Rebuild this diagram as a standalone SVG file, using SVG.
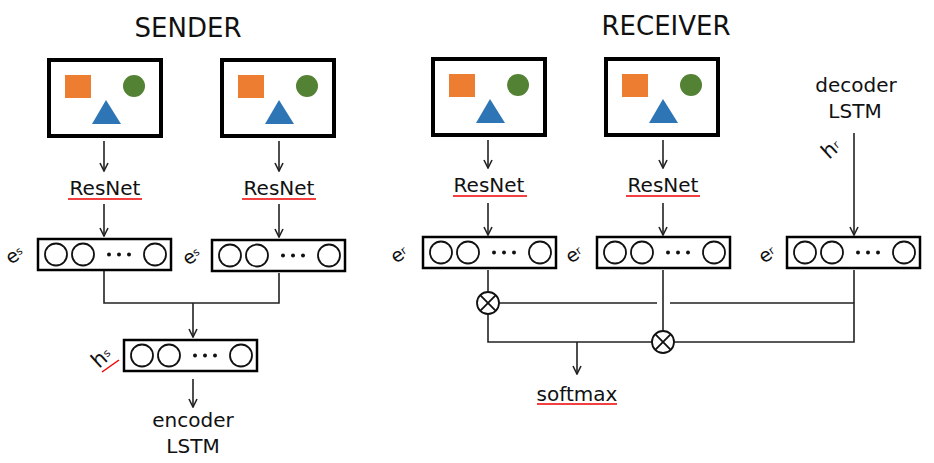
<svg xmlns="http://www.w3.org/2000/svg" xmlns:xlink="http://www.w3.org/1999/xlink" width="934" height="463" viewBox="0 0 934 463">
<style>
  text { font-family: "DejaVu Sans", "Liberation Sans", sans-serif; fill: #111; }
  .title { font-size: 26px; text-anchor: middle; }
  .lbl { font-size: 20px; text-anchor: middle; }
  .sym { font-size: 19px; }
  .symh { font-size: 21px; }
  .sub { font-size: 11px; }
  .frame { fill: #fff; stroke: #000; stroke-width: 4; }
  .vbox { fill: #fff; stroke: #000; stroke-width: 2.5; }
  .cell { fill: #fff; stroke: #111; stroke-width: 1.8; }
  .conn { fill: none; stroke: #222; stroke-width: 1.6; }
  .arr { fill: none; stroke: #222; stroke-width: 1.6; marker-end: url(#ah); }
  .spell { stroke: #e00; stroke-width: 1.5; fill: none; }
</style>
<defs>
  <marker id="ah" viewBox="0 0 10 10" refX="9" refY="5" markerWidth="10" markerHeight="10" markerUnits="userSpaceOnUse" orient="auto">
    <path d="M1,1 L9,5 L1,9" fill="none" stroke="#222" stroke-width="1.6"/>
  </marker>
  <g id="img">
    <rect class="frame" x="2" y="2" width="112" height="76"/>
    <rect x="18" y="17" width="26" height="23" fill="#ED7D31"/>
    <circle cx="87" cy="28" r="11" fill="#548235"/>
    <polygon points="59,42 45,66 74,66" fill="#2E75B6"/>
  </g>
  <g id="vec">
    <rect class="vbox" x="1" y="1" width="133" height="31"/>
    <circle class="cell" cx="19" cy="16.5" r="11"/>
    <circle class="cell" cx="46" cy="16.5" r="11"/>
    <circle cx="72" cy="16.5" r="2" fill="#111"/>
    <circle cx="82" cy="16.5" r="2" fill="#111"/>
    <circle cx="92" cy="16.5" r="2" fill="#111"/>
    <circle class="cell" cx="118" cy="16.5" r="11"/>
  </g>
  <g id="otimes">
    <circle r="11" fill="#fff" stroke="#111" stroke-width="1.8"/>
    <path d="M-7.8,-7.8 L7.8,7.8 M-7.8,7.8 L7.8,-7.8" stroke="#111" stroke-width="1.8"/>
  </g>
</defs>
<rect width="934" height="463" fill="#fff"/>

<g id="connectors">
  <!-- sender -->
  <path class="arr" d="M104,141 V171"/>
  <path class="arr" d="M104,204 V236"/>
  <path class="arr" d="M279,141 V171"/>
  <path class="arr" d="M279,204 V237"/>
  <path class="conn" d="M104,271 V303 H279 V273"/>
  <path class="arr" d="M193,303 V337"/>
  <path class="arr" d="M193,379 V407"/>
  <!-- receiver -->
  <path class="arr" d="M488,140 V168"/>
  <path class="arr" d="M488,203 V235"/>
  <path class="arr" d="M663,140 V168"/>
  <path class="arr" d="M663,203 V235"/>
  <path class="arr" d="M854,133 V235"/>
  <path class="conn" d="M488,270 V292"/>
  <path class="conn" d="M499,303 H657 M670,303 H854"/>
  <path class="conn" d="M854,270 V342 H674"/>
  <path class="conn" d="M663,270 V331"/>
  <path class="conn" d="M488,314 V342 H652"/>
  <path class="arr" d="M577,342 V374"/>
</g>

<g id="sender-title"><text class="title" x="188" y="37">SENDER</text></g>
<g id="receiver-title"><text class="title" x="666" y="35">RECEIVER</text></g>

<g id="s-img1"><use xlink:href="#img" href="#img" transform="translate(47,58)"/></g>
<g id="s-img2"><use xlink:href="#img" href="#img" transform="translate(220,58)"/></g>
<g id="r-img1"><use xlink:href="#img" href="#img" transform="translate(431,57)"/></g>
<g id="r-img2"><use xlink:href="#img" href="#img" transform="translate(604,57)"/></g>

<g id="s-resnet1"><text class="lbl" x="105" y="195">ResNet</text><path class="spell" d="M68,199 H142"/></g>
<g id="s-resnet2"><text class="lbl" x="279" y="195">ResNet</text><path class="spell" d="M242,199 H316"/></g>
<g id="r-resnet1"><text class="lbl" x="489" y="192">ResNet</text><path class="spell" d="M453,196 H527"/></g>
<g id="r-resnet2"><text class="lbl" x="663" y="192">ResNet</text><path class="spell" d="M626,196 H700"/></g>

<g id="s-vec1">
  <use xlink:href="#vec" href="#vec" transform="translate(37,238)"/>
  <text class="sym" transform="translate(11,265) rotate(-35)">e<tspan class="sub" dy="-3">s</tspan></text>
</g>
<g id="s-vec2">
  <use xlink:href="#vec" href="#vec" transform="translate(211,239)"/>
  <text class="sym" transform="translate(188,266) rotate(-35)">e<tspan class="sub" dy="-3">s</tspan></text>
</g>
<g id="s-hs">
  <use xlink:href="#vec" href="#vec" transform="translate(123,339)"/>
  <text class="symh" transform="translate(99,369) rotate(-42)">h<tspan class="sub" dy="-3">s</tspan></text>
  <path class="spell" d="M102,372 L119,360"/>
</g>
<g id="s-encoder">
  <text class="lbl" x="193" y="427">encoder</text>
  <text class="lbl" x="193" y="453">LSTM</text>
</g>

<g id="r-vec1">
  <use xlink:href="#vec" href="#vec" transform="translate(422,236)"/>
  <text class="sym" transform="translate(396,264) rotate(-35)">e<tspan class="sub" dy="-3">r</tspan></text>
</g>
<g id="r-vec2">
  <use xlink:href="#vec" href="#vec" transform="translate(596,236)"/>
  <text class="sym" transform="translate(571,264) rotate(-35)">e<tspan class="sub" dy="-3">r</tspan></text>
</g>
<g id="r-vec3">
  <use xlink:href="#vec" href="#vec" transform="translate(786,236)"/>
  <text class="sym" transform="translate(764,264) rotate(-35)">e<tspan class="sub" dy="-3">r</tspan></text>
</g>
<g id="r-decoder">
  <text class="lbl" x="856" y="92">decoder</text>
  <text class="lbl" x="855" y="118">LSTM</text>
  <text class="symh" transform="translate(829,160) rotate(-42)">h<tspan class="sub" dy="-3">r</tspan></text>
</g>

<g id="mult1"><use xlink:href="#otimes" href="#otimes" transform="translate(488,303)"/></g>
<g id="mult2"><use xlink:href="#otimes" href="#otimes" transform="translate(663,342)"/></g>

<g id="softmax"><text class="lbl" x="577" y="401">softmax</text><path class="spell" d="M537,404 H617"/></g>
</svg>
